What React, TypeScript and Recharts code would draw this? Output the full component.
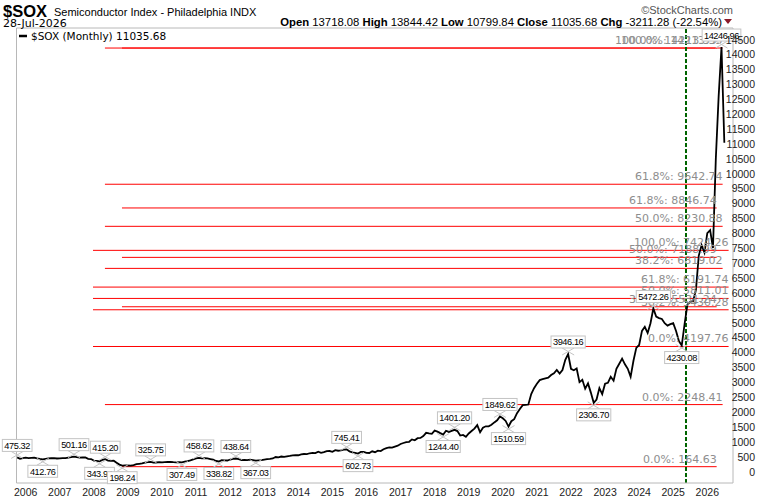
import React from "react";
import {
  LineChart,
  Line,
  XAxis,
  YAxis,
  ReferenceLine,
  ReferenceDot,
} from "recharts";

// monthly closes, first value is Oct 2005 (month -3, Jan 2006 = 0)
const firstMonth = -3;
const closes2005_2009 = [
  475.32, 430, 450,
  470, 455, 462, 468, 440, 425, 412.76, 430, 440, 448, 452, 440,
  445, 455, 450, 470, 485, 501.16, 485, 470, 472, 475, 430, 420,
  370, 360, 343.94, 390, 415.2, 370, 360, 365, 300, 235, 198.24, 210,
  205, 200, 220, 250, 262, 272, 300, 318, 325.75, 300, 305, 320,
];
const closes2010_2014 = [
  310, 318, 322, 323, 315, 310, 318, 307.49, 332, 352, 378, 410,
  440, 458.62, 442, 448, 440, 420, 400, 355, 338.82, 385, 375, 372,
  405, 425, 438.64, 415, 385, 392, 385, 402, 388, 367.03, 375, 382,
  405, 420, 428, 440, 490, 478, 505, 492, 512, 525, 545, 552,
  548, 580, 590, 585, 615, 630, 620, 670, 630, 650, 685, 690,
];
const closes2015_2019 = [
  665, 720, 700, 712, 735, 745.41, 680, 645, 625, 602.73, 660, 660,
  630, 625, 680, 650, 700, 690, 750, 790, 810, 805, 840, 870,
  925, 960, 990, 1000, 1080, 1050, 1120, 1130, 1190, 1300, 1280, 1265,
  1375, 1340, 1290, 1244.4, 1370, 1330, 1365, 1401.2, 1360, 1210, 1230, 1170,
  1280, 1360, 1440, 1560, 1320, 1470, 1520, 1520, 1570, 1650, 1720, 1849.62,
];
const closes2020_2024 = [
  1790, 1700, 1510.59, 1690, 1760, 1960, 2100, 2230, 2240, 2250, 2600, 2800,
  2950, 3070, 3100, 3130, 3150, 3240, 3300, 3410, 3290, 3410, 3750, 3946.16,
  3450, 3400, 3460, 3000, 3080, 2780, 2960, 2650, 2306.7, 2420, 2800, 2600,
  2950, 2980, 3180, 3050, 3450, 3620, 3790, 3600, 3450, 3180, 3720, 4150,
  4250, 4720, 4860, 4650, 4980, 5472.26, 5200, 5150, 5120, 4980, 4900, 4950,
];
const closes2025_2026 = [
  4980, 4720, 4380, 4230.08, 4950, 5600, 5700, 5720, 6100, 7250, 7600, 7350,
  8000, 8100, 7500, 10500, 12600, 14246.96, 11035.68,
];

const closes = [
  ...closes2005_2009,
  ...closes2010_2014,
  ...closes2015_2019,
  ...closes2020_2024,
  ...closes2025_2026,
];

// labelled swing highs / lows (month index)
const swingMonths = [-3, 6, 17, 26, 28, 34, 44, 55, 61, 68, 74, 81, 113, 117, 147, 151, 167, 170, 191, 200, 221, 231, 245];
const swingHigh = [true, false, true, false, true, false, true, false, true, false, true, false, true, false, false, true, true, false, true, false, true, false, true];

const yearTicks = [0, 12, 24, 36, 48, 60, 72, 84, 96, 108, 120, 132, 144, 156, 168, 180, 192, 204, 216, 228, 240];
const yearLabels = ["2006", "2007", "2008", "2009", "2010", "2011", "2012", "2013", "2014", "2015", "2016", "2017", "2018", "2019", "2020", "2021", "2022", "2023", "2024", "2025", "2026"];
const priceTicks = [0, 500, 1000, 1500, 2000, 2500, 3000, 3500, 4000, 4500, 5000, 5500, 6000, 6500, 7000, 7500, 8000, 8500, 9000, 9500, 10000, 10500, 11000, 11500, 12000, 12500, 13000, 13500, 14000, 14500];

// fibonacci retracement sets
const fibPcts = ["0.0%", "38.2%", "50.0%", "61.8%", "100.0%"];
const fibC = [4197.76, 5430.28, 5811.01, 6191.74, 7424.26];
const fibA = [164.63, 5531.24, 7188.99, 8846.74, 14213.35];
const fibB = [2248.41, 6819.02, 8230.88, 9642.74, 14213.35];
const fibSets = [
  { levels: fibC, from: 23.7, to: 247.5 },
  { levels: fibA, from: 33.9, to: 243.3 },
  { levels: fibB, from: 27.9, to: 245.4 },
];

const markerMonth = 232.5;
const xDomain = [-3.24, 249.05];
const yDomain = [-383, 14886];

const chartData = closes.map((close, i) => ({ m: firstMonth + i, close }));

const tickFont = "'Liberation Sans', Arial, sans-serif";
const labelFont = "'DejaVu Sans', Verdana, sans-serif";
const frame = "#b8b8b8";

function YearTick({ x, y, payload }: any) {
  const i = yearTicks.indexOf(payload.value);
  return (
    <text x={x} y={y + 13} textAnchor="middle" fontSize={10.5} fontFamily={tickFont} fill="#222">
      {yearLabels[i]}
    </text>
  );
}

function PriceTick({ x, y, payload }: any) {
  return (
    <text x={x + 22} y={y} textAnchor="end" dominantBaseline="central" fontSize={10.5} fontFamily={tickFont} fill="#222">
      {payload.value}
    </text>
  );
}

function SwingLabel({ cx, cy, text, high }: any) {
  if (cx == null || cy == null) return null;
  const digits = text.replace(".", "").length;
  const w = digits * 4.5 + 2.2 + 5;
  const h = 12;
  const boxY = high ? cy - 6 - h : cy + 6;
  const xTop = high ? cy - 6 : cy - 1;
  const xBot = high ? cy + 1 : cy + 6;
  return (
    <g>
      <line x1={cx - 6} y1={xTop} x2={cx + 6} y2={xBot} stroke="#c4c4c4" />
      <line x1={cx + 6} y1={xTop} x2={cx - 6} y2={xBot} stroke="#c4c4c4" />
      <rect x={cx - w / 2} y={boxY} width={w} height={h} fill="#fff" stroke="#c4c4c4" />
      <text
        x={cx}
        y={boxY + h / 2 + 0.5}
        textAnchor="middle"
        dominantBaseline="central"
        fontSize={9.2}
        letterSpacing={-0.4}
        fontFamily={tickFont}
        fill="#000"
      >
        {text}
      </text>
    </g>
  );
}

function FibText({ cx, cy, text }: any) {
  if (cx == null || cy == null) return null;
  return (
    <text x={cx} y={cy - 4} textAnchor="end" fontSize={11} fontFamily={labelFont} fill="#8e8e8e">
      {text}
    </text>
  );
}

export default function App() {
  return (
    <div style={{ position: "absolute", left: 0, top: 0, width: 780, height: 500, background: "#fff" }}>
      <LineChart
        width={780}
        height={500}
        data={chartData}
        margin={{ top: 28, right: 0, bottom: 0, left: 16.5 }}
      >
        <XAxis
          dataKey="m"
          type="number"
          domain={xDomain}
          ticks={yearTicks}
          interval={0}
          allowDataOverflow
          axisLine={{ stroke: frame }}
          tickLine={false}
          tickSize={0}
          tickMargin={0}
          height={17}
          tick={<YearTick />}
        />
        <YAxis
          orientation="right"
          type="number"
          domain={yDomain}
          ticks={priceTicks}
          interval={0}
          allowDataOverflow
          axisLine={{ stroke: frame }}
          tickLine={false}
          tickSize={0}
          tickMargin={0}
          width={47}
          tick={<PriceTick />}
        />
        <ReferenceLine x={xDomain[0]} stroke={frame} ifOverflow="visible" />
        <ReferenceLine y={yDomain[1]} stroke={frame} ifOverflow="visible" />
        {fibSets.map((set, si) =>
          set.levels.map((lv, li) => (
            <ReferenceLine
              key={`fl-${si}-${li}`}
              segment={[
                { x: set.from, y: lv },
                { x: set.to, y: lv },
              ]}
              stroke="#ff0000"
              strokeWidth={1}
              ifOverflow="visible"
            />
          ))
        )}
        <ReferenceLine x={markerMonth} stroke="#006400" strokeWidth={2} strokeDasharray="4 2" />
        <Line
          type="linear"
          dataKey="close"
          stroke="#000"
          strokeWidth={1.8}
          dot={false}
          isAnimationActive={false}
        />
        {fibSets.map((set, si) =>
          set.levels.map((lv, li) => (
            <ReferenceDot
              key={`ft-${si}-${li}`}
              x={set.to}
              y={lv}
              r={0}
              ifOverflow="visible"
              shape={(p: any) => <FibText cx={p.cx} cy={p.cy} text={`${fibPcts[li]}: ${lv.toFixed(2)}`} />}
            />
          ))
        )}
        {swingMonths.map((m, i) => {
          const v = closes[m - firstMonth];
          return (
            <ReferenceDot
              key={`sw-${m}`}
              x={m}
              y={v}
              r={0}
              ifOverflow="visible"
              shape={(p: any) => <SwingLabel cx={p.cx} cy={p.cy} text={v.toFixed(2)} high={swingHigh[i]} />}
            />
          );
        })}
      </LineChart>
      <svg
        width={780}
        height={500}
        style={{ position: "absolute", left: 0, top: 0, pointerEvents: "none" }}
      >
        <text x={3} y={17} fontSize={16.5} fontWeight="bold" fontFamily={tickFont} fill="#000">
          $SOX
        </text>
        <text x={54} y={16} fontSize={11} fontFamily={tickFont} fill="#000">
          Semiconductor Index - Philadelphia{"  "}INDX
        </text>
        <text x={733} y={14} textAnchor="end" fontSize={11} fontFamily={tickFont} fill="#555">
          ©StockCharts.com
        </text>
        <text x={3} y={27} fontSize={11} fontFamily={labelFont} fill="#000">
          28-Jul-2026
        </text>
        <text x={722} y={26} textAnchor="end" fontSize={11.3} fontFamily={tickFont} fill="#000">
          <tspan fontWeight="bold">Open</tspan> 13718.08 <tspan fontWeight="bold">High</tspan> 13844.42{" "}
          <tspan fontWeight="bold">Low</tspan> 10799.84 <tspan fontWeight="bold">Close</tspan> 11035.68{" "}
          <tspan fontWeight="bold">Chg</tspan> -3211.28 (-22.54%)
        </text>
        <polygon points="724,19 732,19 728,24" fill="#8b1a2a" />
        <line x1={19} y1={36} x2={27} y2={36} stroke="#000" strokeWidth={2.5} />
        <text x={31} y={40} fontSize={10.5} fontFamily={labelFont} fill="#000">
          $SOX (Monthly) 11035.68
        </text>
      </svg>
    </div>
  );
}
